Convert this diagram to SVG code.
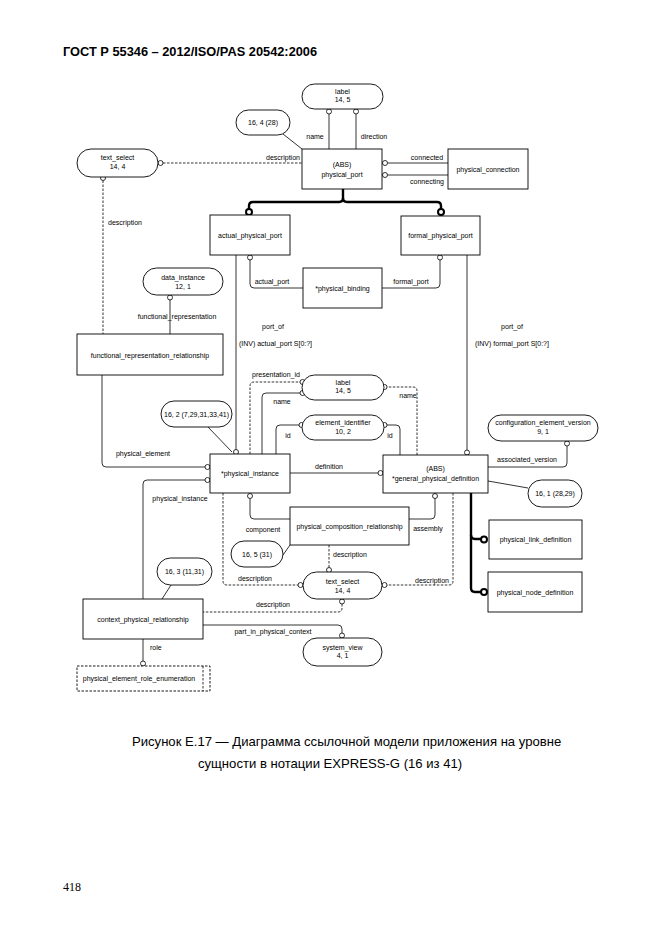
<svg xmlns="http://www.w3.org/2000/svg" width="662" height="935" viewBox="0 0 662 935">
<style>
.b{fill:#fff;stroke:#000;stroke-width:0.9}
.db{fill:#fff;stroke:#000;stroke-width:0.9;stroke-dasharray:2.5,1.5}
.l{fill:none;stroke:#000;stroke-width:0.8}
.d{fill:none;stroke:#000;stroke-width:0.8;stroke-dasharray:2.5,1.5}
.k{fill:none;stroke:#000;stroke-width:2.4}
.c{fill:#fff;stroke:#000;stroke-width:0.8}
.kc{fill:#fff;stroke:#000;stroke-width:2}
text{font-family:"Liberation Sans",Arial,sans-serif;fill:#000}
.t{font-size:7px;text-anchor:middle}
.s{font-size:7px;text-anchor:start}
</style>
<rect width="662" height="935" fill="#fff"/>
<text x="63" y="56" style="font-size:12.8px;font-weight:bold">ГОСТ Р 55346 – 2012/ISO/PAS 20542:2006</text>

<g id="connectors">
  <line class="l" x1="329" y1="114" x2="329" y2="149"/>
  <circle class="c" cx="329" cy="111.5" r="2.5"/>
  <line class="l" x1="356" y1="114" x2="356" y2="149"/>
  <circle class="c" cx="356" cy="111.5" r="2.5"/>
  <line class="l" x1="283" y1="134" x2="302" y2="149"/>
  <line class="d" x1="163" y1="163" x2="302" y2="163"/>
  <circle class="c" cx="160.5" cy="163" r="2.5"/>
  <line class="l" x1="387.5" y1="163" x2="448" y2="163"/>
  <circle class="c" cx="385" cy="163" r="2.5"/>
  <line class="l" x1="387.5" y1="175" x2="448" y2="175"/>
  <circle class="c" cx="385" cy="175" r="2.5"/>
  <path class="k" d="M343,189 V198 Q343,202 339,202 H253 Q249,202 249,206 V209"/>
  <path class="k" d="M343,198 Q343,202 347,202 H437 Q441,202 441,206 V209"/>
  <circle class="kc" cx="249" cy="212" r="3"/>
  <circle class="kc" cx="441" cy="212" r="3"/>
  <path class="l" d="M250,260 V284 Q250,288 254,288 H303"/>
  <circle class="c" cx="250" cy="257.5" r="2.5"/>
  <path class="l" d="M382,288 H436 Q440,288 440,284 V260"/>
  <circle class="c" cx="440" cy="257.5" r="2.5"/>
  <line class="l" x1="236" y1="255" x2="236" y2="449.5"/>
  <circle class="c" cx="236" cy="452" r="2.5"/>
  <line class="l" x1="467" y1="255" x2="467" y2="450"/>
  <circle class="c" cx="467" cy="452.5" r="2.5"/>
  <line class="d" x1="103" y1="180.5" x2="103" y2="334"/>
  <circle class="c" cx="103" cy="178" r="2.5"/>
  <line class="l" x1="170" y1="300" x2="170" y2="334"/>
  <circle class="c" cx="170" cy="297.5" r="2.5"/>
  <path class="l" d="M205,467 H106 Q102,467 102,463 V375"/>
  <circle class="c" cx="207.5" cy="467" r="2.5"/>
  <path class="l" d="M205,480 H147 Q143,480 143,484 V599"/>
  <circle class="c" cx="207.5" cy="480" r="2.5"/>
  <line class="l" x1="208" y1="427" x2="232" y2="452"/>
  <path class="d" d="M250,454 V386 Q250,382 254,382 H300"/>
  <circle class="c" cx="302.5" cy="382" r="2.5"/>
  <path class="l" d="M262,454 V397 Q262,393 266,393 H300"/>
  <circle class="c" cx="302.5" cy="393" r="2.5"/>
  <path class="l" d="M276,454 V429 Q276,425 280,425 H299"/>
  <circle class="c" cx="301.5" cy="425" r="2.5"/>
  <path class="l" d="M400,455 V429 Q400,425 396,425 H387"/>
  <circle class="c" cx="384.5" cy="425" r="2.5"/>
  <path class="d" d="M417,455 V391 Q417,387 413,387 H387"/>
  <circle class="c" cx="384.5" cy="387" r="2.5"/>
  <line class="l" x1="290" y1="473" x2="378" y2="473"/>
  <circle class="c" cx="380.5" cy="473" r="2.5"/>
  <path class="l" d="M250,498.5 V515 Q250,519 254,519 H290"/>
  <circle class="c" cx="250" cy="496" r="2.5"/>
  <path class="l" d="M435,498.5 V515 Q435,519 431,519 H409"/>
  <circle class="c" cx="435" cy="496" r="2.5"/>
  <line class="l" x1="283" y1="555" x2="290" y2="545"/>
  <line class="d" x1="329" y1="545" x2="329" y2="567.5"/>
  <circle class="c" cx="329" cy="570" r="2.5"/>
  <path class="d" d="M223,493 V581 Q223,585 227,585 H298"/>
  <circle class="c" cx="300.5" cy="585" r="2.5"/>
  <path class="d" d="M453,493 V581 Q453,585 449,585 H387"/>
  <circle class="c" cx="384.5" cy="585" r="2.5"/>
  <path class="d" d="M342,604 V608 Q342,612 338,612 H203"/>
  <circle class="c" cx="342" cy="601.5" r="2.5"/>
  <path class="l" d="M203,625 H338 Q342,625 342,629 V633"/>
  <circle class="c" cx="342" cy="635.5" r="2.5"/>
  <line class="l" x1="143" y1="639" x2="143" y2="661"/>
  <circle class="c" cx="143" cy="663.5" r="2.5"/>
  <line class="l" x1="171" y1="585" x2="162" y2="599"/>
  <path class="l" d="M488,467 H563 Q567,467 567,463 V446"/>
  <circle class="c" cx="567" cy="443.5" r="2.5"/>
  <line class="l" x1="488" y1="481" x2="528" y2="488"/>
  <path class="k" d="M471,493 V588 Q471,592 475,592 H481"/>
  <path class="k" d="M471,535 Q471,539 475,539 H481"/>
  <circle class="kc" cx="484" cy="539.5" r="3"/>
  <circle class="kc" cx="484" cy="592" r="3"/>

  <text class="t" x="315" y="139">name</text>
  <text class="t" x="374" y="139">direction</text>
  <text class="t" x="283" y="159.5">description</text>
  <text class="t" x="427" y="159.5">connected</text>
  <text class="t" x="427" y="184">connecting</text>
  <text class="t" x="125" y="224.5">description</text>
  <text class="t" x="272" y="284">actual_port</text>
  <text class="t" x="411" y="284">formal_port</text>
  <text class="t" x="273" y="328.5">port_of</text>
  <text class="t" x="275.5" y="345.5">(INV) actual_port S[0:?]</text>
  <text class="t" x="512" y="328.5">port_of</text>
  <text class="t" x="512" y="345.5">(INV) formal_port S[0:?]</text>
  <text class="t" x="177" y="318.5">functional_representation</text>
  <text class="t" x="143" y="455.5">physical_element</text>
  <text class="t" x="180" y="500.5">physical_instance</text>
  <text class="t" x="276" y="376.5">presentation_id</text>
  <text class="t" x="282" y="403.5">name</text>
  <text class="t" x="408" y="397.5">name</text>
  <text class="t" x="288" y="437.5">id</text>
  <text class="t" x="390" y="437.5">id</text>
  <text class="t" x="329" y="469">definition</text>
  <text class="t" x="263" y="531.5">component</text>
  <text class="t" x="428" y="530.5">assembly</text>
  <text class="s" x="333" y="556.5">description</text>
  <text class="t" x="255" y="580.5">description</text>
  <text class="t" x="432" y="583">description</text>
  <text class="t" x="273" y="607">description</text>
  <text class="t" x="273" y="634">part_in_physical_context</text>
  <text class="s" x="150" y="649.5">role</text>
  <text class="t" x="527" y="461.5">associated_version</text>
</g>

<g id="label_top"><rect class="b" x="302" y="84" width="81" height="25" rx="12.5"/><text class="t" x="342.5" y="93.5">label</text><text class="t" x="342.5" y="102">14, 5</text></g>
<g id="physical_port"><rect class="b" x="302" y="149" width="80" height="40"/><text class="t" x="342" y="167">(ABS)</text><text class="t" x="342" y="176.5">physical_port</text></g>
<g id="physical_connection"><rect class="b" x="448" y="149" width="80" height="40"/><text class="t" x="488" y="171.5">physical_connection</text></g>
<g id="ref_16_4"><rect class="b" x="236" y="110" width="54" height="25" rx="12.5"/><text class="t" x="263" y="125">16, 4 (28)</text></g>
<g id="text_select_top"><rect class="b" x="77" y="149" width="81" height="28" rx="14"/><text class="t" x="117.5" y="159.5">text_select</text><text class="t" x="117.5" y="168.5">14, 4</text></g>
<g id="actual_physical_port"><rect class="b" x="210" y="215" width="80" height="40"/><text class="t" x="250" y="237.5">actual_physical_port</text></g>
<g id="formal_physical_port"><rect class="b" x="401" y="216" width="79" height="39"/><text class="t" x="440.5" y="237.5">formal_physical_port</text></g>
<g id="physical_binding"><rect class="b" x="303" y="268" width="79" height="40"/><text class="t" x="342.5" y="290.5">*physical_binding</text></g>
<g id="data_instance"><rect class="b" x="143" y="268" width="80" height="27" rx="13.5"/><text class="t" x="183" y="279.5">data_instance</text><text class="t" x="183" y="288.5">12, 1</text></g>
<g id="functional_representation_relationship"><rect class="b" x="77" y="334" width="146" height="41"/><text class="t" x="150" y="357.5">functional_representation_relationship</text></g>
<g id="label_mid"><rect class="b" x="302" y="375" width="82" height="25" rx="12.5"/><text class="t" x="343" y="384.5">label</text><text class="t" x="343" y="393">14, 5</text></g>
<g id="element_identifier"><rect class="b" x="302" y="415" width="82" height="25" rx="12.5"/><text class="t" x="343" y="425">element_identifier</text><text class="t" x="343" y="433.5">10, 2</text></g>
<g id="ref_16_2"><rect class="b" x="161" y="401" width="71" height="26" rx="13"/><text class="t" x="196.5" y="416.5">16, 2 (7,29,31,33,41)</text></g>
<g id="physical_instance"><rect class="b" x="210" y="454" width="80" height="39"/><text class="t" x="250" y="475.5">*physical_instance</text></g>
<g id="general_physical_definition"><rect class="b" x="383" y="455" width="105" height="38"/><text class="t" x="435.5" y="471">(ABS)</text><text class="t" x="435.5" y="480.5">*general_physical_definition</text></g>
<g id="configuration_element_version"><rect class="b" x="488" y="415" width="110" height="26" rx="13"/><text class="t" x="543" y="425">configuration_element_version</text><text class="t" x="543" y="433.5">9, 1</text></g>
<g id="ref_16_1"><rect class="b" x="528" y="480" width="54" height="27" rx="13.5"/><text class="t" x="555" y="496">16, 1 (28,29)</text></g>
<g id="physical_link_definition"><rect class="b" x="489" y="520" width="93" height="39"/><text class="t" x="535.5" y="542">physical_link_definition</text></g>
<g id="physical_node_definition"><rect class="b" x="488" y="572" width="94" height="40"/><text class="t" x="535" y="594.5">physical_node_definition</text></g>
<g id="physical_composition_relationship"><rect class="b" x="290" y="507" width="119" height="38"/><text class="t" x="349.5" y="528.5">physical_composition_relationship</text></g>
<g id="ref_16_5"><rect class="b" x="231" y="541" width="52" height="26" rx="13"/><text class="t" x="257" y="556.5">16, 5 (31)</text></g>
<g id="text_select_bottom"><rect class="b" x="303" y="572" width="79" height="27" rx="13.5"/><text class="t" x="342.5" y="584">text_select</text><text class="t" x="342.5" y="592.5">14, 4</text></g>
<g id="ref_16_3"><rect class="b" x="157" y="558" width="55" height="27" rx="13.5"/><text class="t" x="184.5" y="574">16, 3 (11,31)</text></g>
<g id="context_physical_relationship"><rect class="b" x="83" y="599" width="120" height="40"/><text class="t" x="143" y="621.5">context_physical_relationship</text></g>
<g id="system_view"><rect class="b" x="303" y="638" width="79" height="28" rx="14"/><text class="t" x="342.5" y="649.5">system_view</text><text class="t" x="342.5" y="658">4, 1</text></g>
<g id="physical_element_role_enumeration"><rect class="db" x="77" y="666" width="133" height="25"/><line class="d" x1="203" y1="666" x2="203" y2="691"/><text class="t" x="139" y="680.5">physical_element_role_enumeration</text></g>

<text x="132" y="746" style="font-size:13.1px">Рисунок Е.17 — Диаграмма ссылочной модели приложения на уровне</text>
<text x="198" y="768" style="font-size:13.1px">сущности в нотации EXPRESS-G (16 из 41)</text>
<text x="63" y="891" style="font-family:'Liberation Serif','Times New Roman',serif;font-size:12px">418</text>
</svg>
